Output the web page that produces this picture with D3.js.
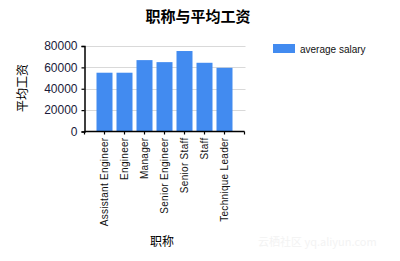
<!DOCTYPE html>
<html><head><meta charset="utf-8">
<script src="https://cdn.jsdelivr.net/npm/d3@7"></script>
<style>body{margin:0;background:#fff}svg{display:block}</style>
</head><body>
<script>
const categories = ["Assistant Engineer","Engineer","Manager","Senior Engineer","Senior Staff","Staff","Technique Leader"];
const salaries = [55000, 55000, 66800, 64900, 75300, 64300, 59600];
const yTicks = [0, 20000, 40000, 60000, 80000];
const seriesName = "average salary";
const chartTitle = "职称与平均工资";
const xTitle = "职称";
const yTitle = "平均工资";

const W = 400, H = 261;
const svg = d3.select("body").append("svg").attr("width", W).attr("height", H);
const pLeft = 84.5, pRight = 244.5, pTop = 46, pBottom = 131.5;
const font = "Arial, 'Liberation Sans', sans-serif";
const cjk = "'Noto Sans CJK SC', sans-serif";

const x = d3.scalePoint().domain(categories).range([pLeft, pRight]).padding(1);
const y = d3.scaleLinear().domain([0, 80000]).range([pBottom, pTop]);

// gridlines
svg.append("g").selectAll("line").data(yTicks.slice(1)).join("line")
  .attr("x1", pLeft).attr("x2", pRight + 1)
  .attr("y1", d => Math.round(y(d)) + 0.5).attr("y2", d => Math.round(y(d)) + 0.5)
  .attr("stroke", "#d9d9d9").attr("stroke-width", 1);

// bars
svg.append("g").selectAll("rect").data(salaries).join("rect")
  .attr("x", (d, i) => x(categories[i]) - 8)
  .attr("width", 16)
  .attr("y", d => y(d))
  .attr("height", d => pBottom - y(d))
  .attr("fill", "#428bf0");

// y axis
const yAxis = svg.append("g").attr("transform", `translate(${pLeft},0)`)
  .call(d3.axisLeft(y).tickValues(yTicks).tickSize(3).tickPadding(4).tickFormat(d3.format("d")));
yAxis.select(".domain").attr("stroke", "#000").attr("stroke-width", 1.5);
yAxis.selectAll(".tick line").attr("stroke", "#000").attr("stroke-width", 1.2);
yAxis.selectAll("text").attr("font-family", font).attr("font-size", 12).attr("fill", "#1a1a3a");

// x axis: ticks at band boundaries
const step = x.step();
const xTickPos = d3.range(categories.length + 2).map(i => pLeft + i * step);
const xg = svg.append("g");
xg.append("line").attr("x1", pLeft).attr("x2", pRight).attr("y1", pBottom).attr("y2", pBottom)
  .attr("stroke", "#000").attr("stroke-width", 1.5);
xg.selectAll("line.t").data(xTickPos).join("line").attr("class","t")
  .attr("x1", d => d).attr("x2", d => d).attr("y1", pBottom).attr("y2", pBottom + 3)
  .attr("stroke", "#000").attr("stroke-width", 1.2);
xg.selectAll("text").data(categories).join("text")
  .attr("transform", d => `translate(${x(d) + 3.5},${pBottom + 6}) rotate(-90)`)
  .attr("text-anchor", "end")
  .attr("font-family", font).attr("font-size", 10).attr("letter-spacing", 0.3).attr("fill", "#111")
  .text(d => d);

// titles
svg.append("text").attr("x", 198).attr("y", 22).attr("text-anchor", "middle")
  .attr("font-family", cjk).attr("font-size", 15).attr("font-weight", "bold").attr("fill", "#000")
  .text(chartTitle);
svg.append("text").attr("x", 162).attr("y", 246).attr("text-anchor", "middle")
  .attr("font-family", cjk).attr("font-size", 12).attr("fill", "#000").text(xTitle);
svg.append("text").attr("transform", "translate(27,88) rotate(-90)").attr("text-anchor", "middle")
  .attr("font-family", cjk).attr("font-size", 12).attr("fill", "#000").text(yTitle);

// legend
svg.append("rect").attr("x", 273).attr("y", 44).attr("width", 22).attr("height", 9).attr("fill", "#428bf0");
svg.append("text").attr("x", 300).attr("y", 52.5).attr("font-family", font).attr("font-size", 10)
  .attr("fill", "#111").text(seriesName);

// watermark
svg.append("text").attr("x", 258).attr("y", 246).attr("font-family", cjk).attr("font-size", 11)
  .attr("fill", "#f3f3f3").text("云栖社区 yq.aliyun.com");
</script>
</body></html>
